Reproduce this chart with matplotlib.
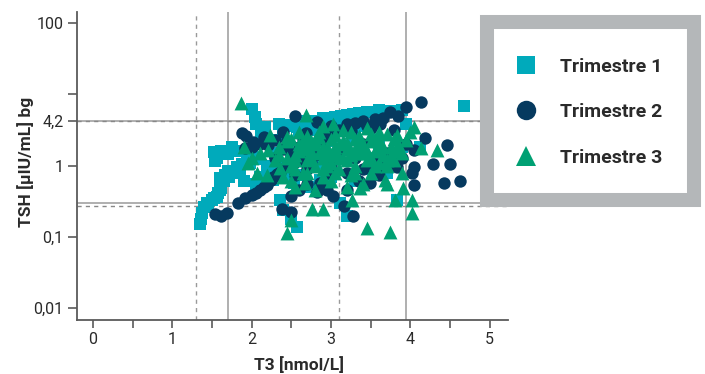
import matplotlib
matplotlib.use("Agg")
import matplotlib.pyplot as plt
from matplotlib.lines import Line2D
from matplotlib.patches import Rectangle

# ---------------- data ----------------
t1_x = [1.35, 1.36, 1.38, 1.40, 1.44, 1.50, 1.56, 1.58, 1.62, 1.62, 1.60, 1.66, 1.70, 1.76, 1.82,
        1.88, 1.94, 2.00, 1.52, 1.56, 1.54, 1.62, 1.75, 1.80, 1.70, 2.00, 2.04, 2.06, 2.17, 2.12,
        2.15, 2.25, 2.35, 2.45, 2.57, 2.70, 2.90, 3.05, 3.20, 3.35, 3.45, 3.60, 3.75, 3.90, 4.67,
        2.05, 2.15, 2.27, 2.36, 2.45, 2.53, 2.62, 2.36, 2.40, 2.50, 2.57, 2.75, 2.86, 2.86, 3.00,
        3.11, 3.20, 3.30, 3.50, 3.70, 3.83, 3.95, 3.90, 4.12, 2.30, 2.50, 2.70, 3.00, 3.30, 3.60,
        2.20, 1.90, 2.40, 2.60, 2.80, 3.10, 3.40,
        1.45, 1.52, 1.60, 1.65, 1.72, 1.80, 1.85, 1.98, 2.05, 1.58, 1.66, 2.10, 2.20, 2.30, 2.40,
        2.50, 2.65, 2.80, 3.00, 3.12, 3.28, 3.50, 3.68, 3.82]
t1_y = [0.15, 0.18, 0.22, 0.26, 0.30, 0.33, 0.36, 0.42, 0.48, 0.58, 0.67, 0.75, 0.85, 0.82, 0.95,
        1.05, 1.20, 1.35, 1.55, 1.30, 1.15, 1.60, 1.85, 1.60, 1.45, 6.20, 4.80, 3.90, 3.50, 2.90,
        2.55, 2.30, 3.90, 3.60, 3.50, 4.20, 4.60, 4.80, 5.10, 5.50, 5.70, 6.00, 5.80, 6.00, 6.90,
        0.55, 0.62, 0.63, 0.85, 0.70, 0.57, 0.75, 0.33, 0.24, 0.18, 0.14, 0.50, 0.63, 1.08, 0.70,
        0.30, 0.20, 0.60, 0.90, 0.80, 0.33, 3.90, 1.80, 1.85, 1.50, 1.20, 1.60, 2.20, 2.50, 2.00,
        1.00, 0.60, 2.60, 3.00, 3.20, 3.40, 3.60,
        0.28, 0.35, 0.45, 0.60, 0.70, 0.78, 0.90, 1.10, 1.25, 1.45, 1.55, 0.70, 0.80, 0.90, 1.00,
        3.70, 3.90, 4.30, 4.60, 4.90, 5.30, 5.60, 5.90, 5.90]

t2_x = [1.54, 1.62, 1.69, 1.83, 1.92, 2.00, 2.05, 2.11, 2.19, 2.27, 2.32, 2.36, 2.44, 2.55, 2.62,
        1.88, 1.93, 2.02, 1.92, 2.15, 2.21, 2.30, 2.55, 2.82, 2.69, 2.40,
        2.49, 2.38, 2.49, 2.60, 2.70, 2.86, 2.95, 3.03, 3.16, 3.28, 3.20, 3.35, 3.49, 3.60,
        3.00, 3.20, 3.40, 3.62, 3.74, 3.55, 3.85, 3.95, 4.14,
        4.19, 4.46, 4.29, 4.50, 4.63, 4.42, 4.04, 4.04, 4.04, 4.02, 3.83, 3.95, 3.70,
        2.60, 2.80, 2.90, 3.00, 3.10, 3.30, 3.40, 3.50, 2.50, 2.70, 3.20, 3.60, 2.30, 2.40,
        2.82, 2.55, 3.10, 3.45,
        2.00, 2.10, 2.45, 2.65, 2.95, 3.25, 3.50, 3.80, 3.30, 3.65, 2.75, 2.95, 3.40, 3.70, 3.90,
        2.25, 2.15]
t2_y = [0.21, 0.20, 0.215, 0.30, 0.35, 0.39, 0.42, 0.46, 0.54, 0.70, 0.76, 0.82, 1.02, 1.14, 1.20,
        2.85, 2.60, 2.17, 1.75, 2.55, 1.95, 2.30, 4.90, 4.10, 2.85, 3.00,
        0.37, 0.25, 0.227, 0.45, 0.55, 0.57, 0.45, 0.37, 0.27, 0.20, 0.45, 0.60, 0.57, 0.75,
        3.60, 3.80, 4.20, 3.90, 5.70, 4.50, 4.90, 6.70, 7.70,
        2.42, 1.95, 1.06, 1.06, 0.60, 0.57, 0.54, 0.97, 1.66, 0.80, 0.97, 2.00, 1.50,
        1.80, 1.40, 2.20, 1.00, 1.60, 1.30, 2.00, 1.10, 1.50, 0.90, 0.80, 1.40, 1.30, 1.70,
        0.43, 0.74, 3.20, 3.60,
        1.80, 2.00, 2.20, 2.40, 2.80, 3.10, 3.40, 3.20, 4.00, 4.60, 1.10, 0.80, 0.90, 1.10, 1.30,
        0.62, 0.50]

t3_x = [1.87, 1.90, 1.96, 2.07, 2.19, 2.21, 2.23, 2.36, 2.44, 2.69, 3.03, 4.04, 4.00, 4.33, 4.14,
        3.83, 3.68, 3.91, 3.81, 4.02, 4.02, 3.45, 3.74, 2.44, 2.49, 2.76, 2.90, 3.26, 3.37, 2.00,
        2.10, 2.30, 2.35, 2.40, 2.50, 2.67,
        2.50, 2.55, 2.60, 2.65, 2.70, 2.70, 2.75, 2.80, 2.80, 2.85, 2.90, 2.90, 2.95, 3.00, 3.00,
        3.05, 3.10, 3.10, 3.15, 3.20, 3.20, 3.25, 3.30, 3.30, 3.35, 3.40, 3.45, 3.50, 3.50, 3.55,
        3.60, 3.60, 3.65, 3.70, 3.75, 3.80, 3.85, 3.90, 3.95, 2.60, 2.85, 3.00, 3.40, 2.45, 2.65,
        3.15, 2.90, 3.25, 3.45, 3.60, 3.90, 3.70, 2.55, 2.80, 3.20, 2.75, 3.05, 3.35, 3.55, 2.95,
        2.45, 2.55, 2.60, 2.70, 2.75, 2.85, 2.95, 3.05, 3.15, 3.25, 3.35, 3.45, 3.55, 3.65, 3.75,
        3.85, 2.50, 2.65, 2.80, 2.90, 3.00, 3.10, 3.20, 3.30, 3.40, 3.50, 3.60, 3.70, 3.80, 2.35,
        2.55, 2.70, 2.90, 3.05, 3.30, 3.50, 3.70]
t3_y = [7.50, 1.85, 1.08, 0.78, 0.74, 1.66, 2.70, 0.92, 2.55, 5.10, 3.90, 3.50, 3.00, 1.66, 1.75,
        2.70, 0.63, 0.48, 0.33, 0.33, 0.215, 0.133, 0.119, 0.113, 0.173, 0.25, 0.25, 0.33, 0.48, 1.30,
        1.50, 1.20, 1.80, 0.70, 0.60, 0.57,
        1.00, 1.40, 2.00, 0.80, 1.20, 2.60, 1.60, 1.00, 2.00, 3.00, 1.30, 0.70, 1.80, 1.10, 2.40,
        1.50, 0.90, 2.00, 3.20, 1.20, 1.70, 0.75, 2.40, 1.00, 1.50, 2.00, 1.20, 0.80, 2.80, 1.60,
        1.10, 2.20, 1.40, 2.80, 1.80, 1.20, 2.00, 1.50, 2.30, 3.00, 2.50, 0.60, 0.55, 1.30, 1.70,
        1.30, 3.60, 3.00, 3.40, 3.00, 0.80, 0.55, 0.50, 0.45, 0.50, 2.20, 2.70, 2.60, 2.40, 1.50,
        2.20, 1.20, 1.60, 1.90, 1.30, 1.50, 1.00, 1.80, 2.20, 1.40, 1.90, 1.60, 1.00, 1.80, 1.40,
        1.60, 2.40, 2.20, 2.30, 1.80, 1.40, 1.30, 2.10, 1.70, 1.50, 2.20, 1.70, 1.20, 2.40, 1.40,
        0.90, 0.80, 0.90, 0.80, 0.80, 1.30, 1.00]

series_labels = ["Trimestre 1", "Trimestre 2", "Trimestre 3"]
x_ticks = [0, 1, 2, 3, 4, 5]
x_minor = [0.5, 1.5, 2.5, 3.5, 4.5]
y_ticks = [0.01, 0.1, 1, 4.2, 10, 100]
y_ticklabels = ["0,01", "0,1", "1", "4,2", "", "100"]
ref_v_solid = [1.7, 3.95]
ref_v_dashed = [1.3, 3.1]
ref_h_solid = [4.2, 0.3]
ref_h_dashed = [4.2, 0.27]

# ---------------- style ----------------
c1, c2, c3 = "#00aabb", "#063a5f", "#00a073"
ref_col = "#9a9a9a"
axis_col = "#5a5a5a"
txt_col = "#2a2a2a"

plt.rcParams["font.family"] = ["Roboto", "DejaVu Sans"]

fig = plt.figure(figsize=(7.05, 3.74), dpi=100)
ax = fig.add_axes([77 / 705, 1 - 320 / 374, 431 / 705, 308 / 374])

ax.set_yscale("log")
ax.set_xlim(-0.2, 5.23)
ax.set_ylim(0.00685, 143)

for xv in ref_v_solid:
    ax.axvline(xv, color=ref_col, lw=1.1, zorder=1)
for xv in ref_v_dashed:
    ax.axvline(xv, color=ref_col, lw=1.0, ls=(0, (3, 3)), zorder=1)
for yv in ref_h_solid:
    ax.axhline(yv, color=ref_col, lw=1.1, zorder=1)
for yv in ref_h_dashed:
    ax.axhline(yv, color="#888888", lw=1.0, ls=(0, (3, 3)), zorder=1)

ax.scatter(t1_x, t1_y, marker="s", s=70, color=c1, linewidths=0, zorder=3)
ax.scatter(t2_x, t2_y, marker="o", s=80, color=c2, linewidths=0, zorder=4)
ax.scatter(t3_x, t3_y, marker="^", s=100, color=c3, linewidths=0, zorder=5)

for side in ["top", "right"]:
    ax.spines[side].set_visible(False)
for side in ["left", "bottom"]:
    ax.spines[side].set_color(axis_col)
    ax.spines[side].set_linewidth(1.3)

ax.set_yticks(y_ticks)
ax.set_yticklabels(y_ticklabels)
ax.yaxis.set_minor_locator(matplotlib.ticker.NullLocator())
ax.set_xticks(x_ticks)
ax.set_xticklabels([str(v) for v in x_ticks])
ax.set_xticks(x_minor, minor=True)
ax.tick_params(axis="both", which="both", direction="out", color=axis_col, width=1.2,
               labelcolor=txt_col, labelsize=11.5)
ax.tick_params(axis="y", length=6.7, pad=3)
ax.tick_params(axis="x", which="both", length=6, pad=2.5)

ax.set_xlabel("T3 [nmol/L]", fontsize=12.5, fontweight="bold", color=txt_col)
ax.set_ylabel("TSH [µIU/mL] bg", fontsize=12.5, fontweight="bold", color=txt_col)
ax.xaxis.set_label_coords(0.514, -0.118)
ax.yaxis.set_label_coords(-0.10, 0.515)

# legend box
box = Rectangle((487 / 705, 1 - 200 / 374), (694 - 487) / 705, (200 - 22) / 374,
                transform=fig.transFigure, facecolor="white", edgecolor="#b4b7b9",
                linewidth=10.1, joinstyle="miter", zorder=10)
fig.add_artist(box)

handles = [
    Line2D([], [], ls="none", marker="s", markersize=13, color=c1, markeredgewidth=0),
    Line2D([], [], ls="none", marker="o", markersize=14, color=c2, markeredgewidth=0),
    Line2D([], [], ls="none", marker="^", markersize=15, color=c3, markeredgewidth=0),
]
leg = fig.legend(handles, series_labels, loc="upper left",
                 bbox_to_anchor=(516.3 / 705, 1 - 57.5 / 374),
                 frameon=False, borderpad=0, borderaxespad=0, handlelength=1.0,
                 handletextpad=1.25, labelspacing=1.42,
                 prop={"weight": "bold", "size": 14})
leg.set_zorder(11)
for t in leg.get_texts():
    t.set_color(txt_col)

fig.savefig("out.png", dpi=100)
